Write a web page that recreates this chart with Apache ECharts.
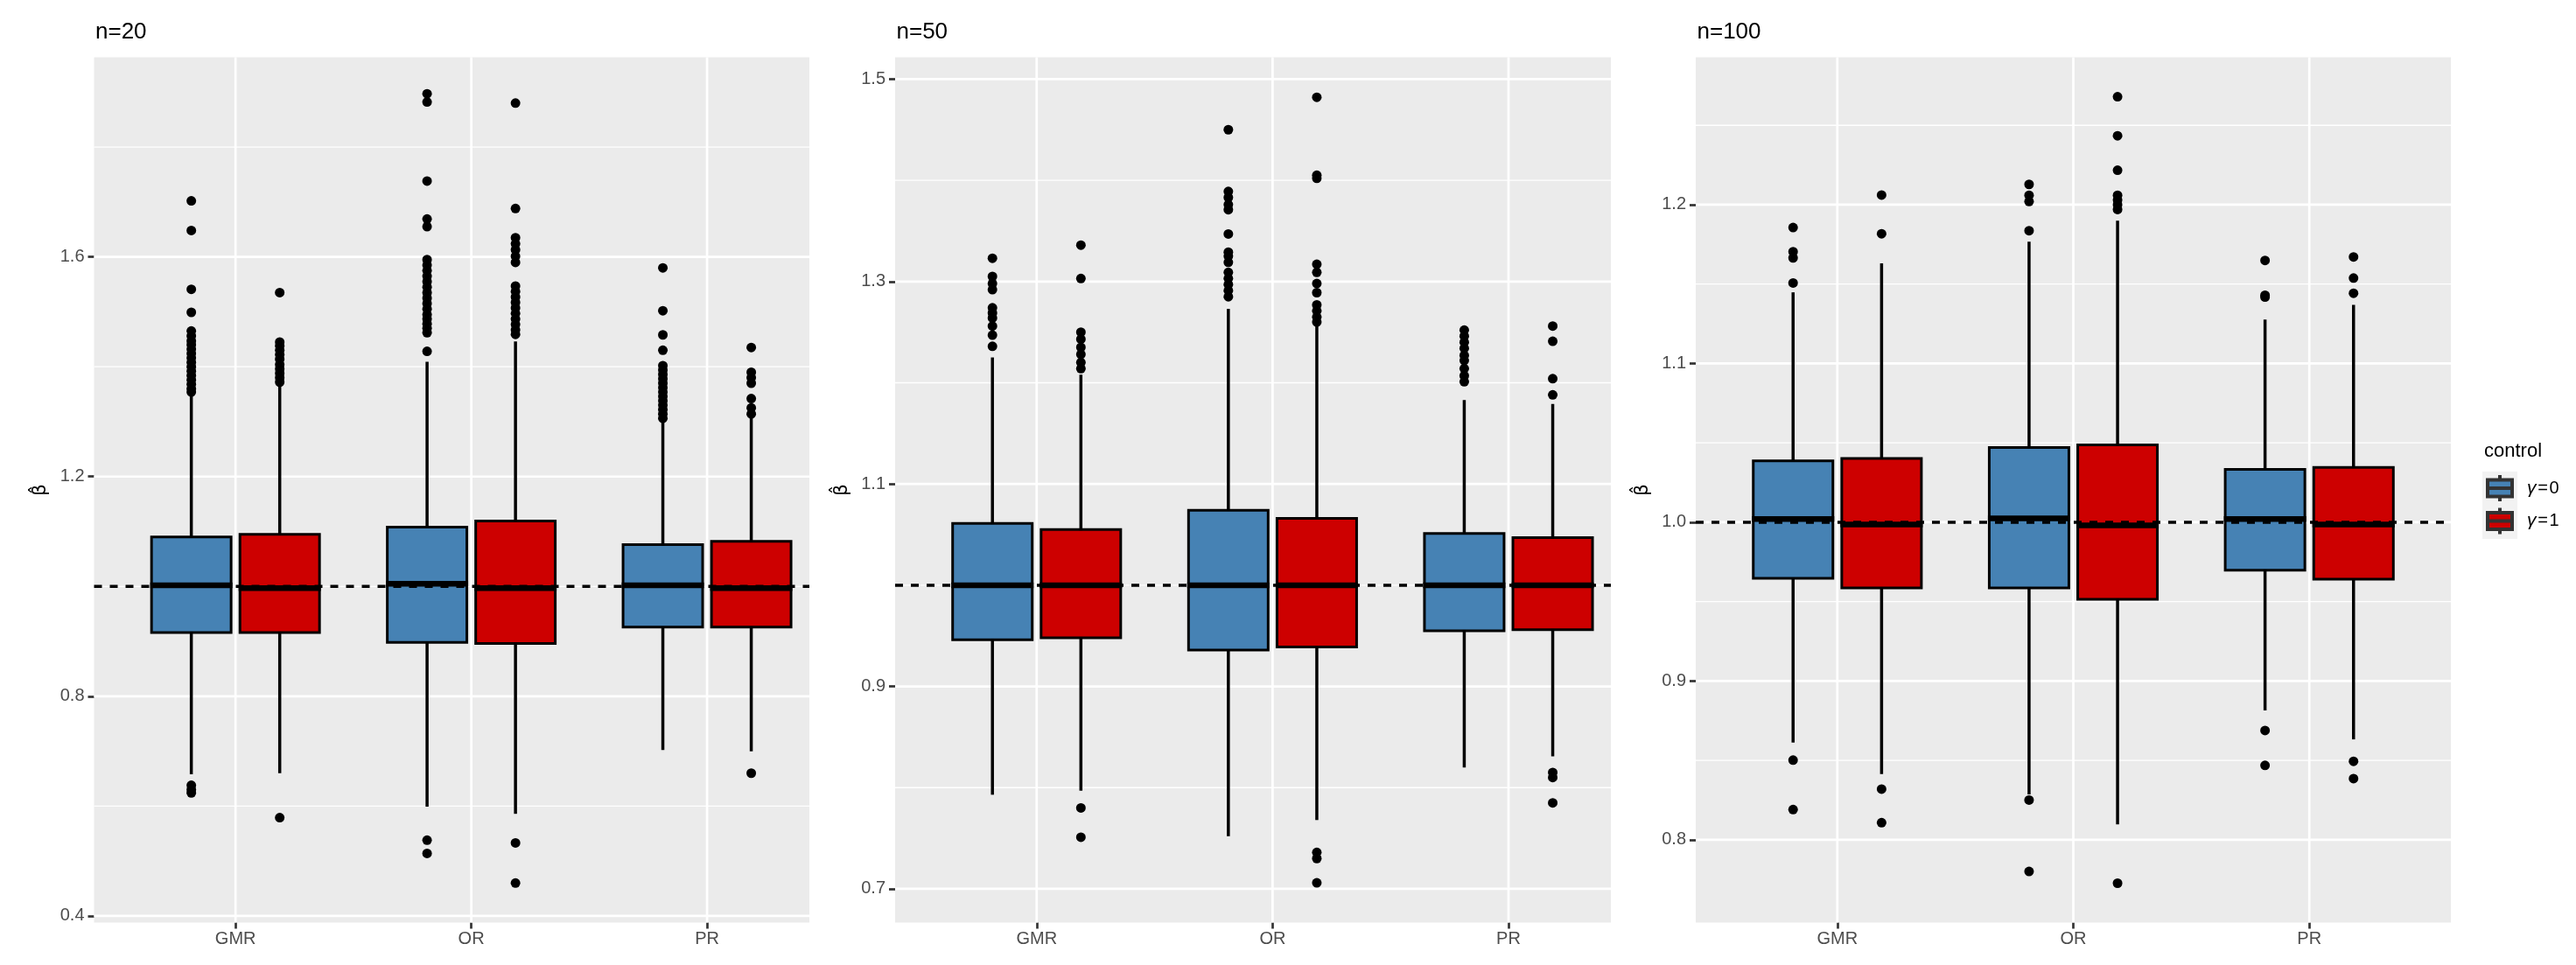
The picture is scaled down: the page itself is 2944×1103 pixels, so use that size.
<!DOCTYPE html>
<html><head><meta charset="utf-8">
<script src="https://cdn.jsdelivr.net/npm/echarts@6/dist/echarts.min.js"></script>
<style>html,body{margin:0;padding:0;background:#fff}#c{width:2944px;height:1103px}</style>
</head><body><div id="c"></div>
<script>
// ---------------- data ----------------
const categories = ['GMR', 'OR', 'PR'];
const groupNames = ['γ=0', 'γ=1'];
const panelTitles = ['n=20', 'n=50', 'n=100'];

// box statistics per category: [lower whisker, Q1, median, Q3, upper whisker]
const n20_g0_stats = [[0.658, 0.916, 1.002, 1.090, 1.348], [0.599, 0.898, 1.005, 1.108, 1.409], [0.702, 0.926, 1.002, 1.076, 1.300]];
const n20_g1_stats = [[0.660, 0.916, 0.997, 1.095, 1.367], [0.586, 0.896, 0.997, 1.119, 1.446], [0.700, 0.926, 0.997, 1.082, 1.308]];
const n50_g0_stats = [[0.793, 0.946, 1.000, 1.061, 1.225], [0.752, 0.936, 1.000, 1.074, 1.273], [0.820, 0.955, 1.000, 1.051, 1.183]];
const n50_g1_stats = [[0.797, 0.948, 1.000, 1.055, 1.208], [0.768, 0.939, 1.000, 1.066, 1.257], [0.831, 0.956, 1.000, 1.047, 1.179]];
const n100_g0_stats = [[0.8612, 0.9647, 1.0020, 1.0387, 1.1448], [0.8285, 0.9586, 1.0024, 1.0471, 1.1767], [0.8815, 0.9697, 1.0020, 1.0333, 1.1276]];
const n100_g1_stats = [[0.8414, 0.9586, 0.9986, 1.0402, 1.1631], [0.8097, 0.9514, 0.9980, 1.0487, 1.1899], [0.8632, 0.9641, 0.9986, 1.0345, 1.1369]];

// outliers per category
const n20_g0_out = [
  [1.702, 1.648, 1.541, 1.499, 1.465, 1.456, 1.447, 1.440, 1.432, 1.424, 1.416, 1.408, 1.400, 1.392, 1.384, 1.376, 1.368, 1.360, 1.354, 0.638, 0.630, 0.624],
  [1.897, 1.882, 1.738, 1.669, 1.655, 1.595, 1.585, 1.575, 1.565, 1.555, 1.545, 1.535, 1.525, 1.515, 1.505, 1.495, 1.487, 1.478, 1.470, 1.462, 1.428, 0.538, 0.514],
  [1.580, 1.502, 1.458, 1.430, 1.402, 1.394, 1.386, 1.378, 1.370, 1.362, 1.354, 1.346, 1.338, 1.330, 1.322, 1.314, 1.306]
];
const n20_g1_out = [
  [1.535, 1.445, 1.438, 1.430, 1.422, 1.414, 1.404, 1.396, 1.388, 1.380, 1.372, 0.579],
  [1.880, 1.688, 1.635, 1.624, 1.613, 1.601, 1.590, 1.547, 1.537, 1.527, 1.517, 1.507, 1.497, 1.487, 1.477, 1.467, 1.459, 0.533, 0.460],
  [1.435, 1.390, 1.380, 1.370, 1.342, 1.325, 1.314, 0.660]
];
const n50_g0_out = [
  [1.323, 1.305, 1.298, 1.292, 1.274, 1.269, 1.264, 1.256, 1.247, 1.236],
  [1.450, 1.389, 1.383, 1.376, 1.371, 1.347, 1.329, 1.325, 1.319, 1.309, 1.303, 1.297, 1.291, 1.285],
  [1.252, 1.246, 1.240, 1.234, 1.227, 1.222, 1.214, 1.207, 1.201]
];
const n50_g1_out = [
  [1.336, 1.303, 1.250, 1.243, 1.235, 1.228, 1.220, 1.214, 0.780, 0.751],
  [1.482, 1.405, 1.402, 1.317, 1.309, 1.298, 1.289, 1.277, 1.271, 1.265, 1.260, 0.736, 0.730, 0.706],
  [1.256, 1.241, 1.204, 1.188, 0.815, 0.810, 0.785]
];
const n100_g0_out = [
  [1.1856, 1.1704, 1.1665, 1.1507, 0.8501, 0.8190],
  [1.2128, 1.2059, 1.2020, 1.1836, 0.8250, 0.7800],
  [1.1649, 1.1430, 1.1418, 0.8688, 0.8468]
];
const n100_g1_out = [
  [1.2061, 1.1817, 0.8319, 0.8107],
  [1.2680, 1.2434, 1.2217, 1.2059, 1.2030, 1.2000, 1.1970, 0.7726],
  [1.1671, 1.1538, 1.1442, 0.8494, 0.8385]
];

// reference line
const refValue = [1.0];

// y-axis ticks
const n20_major = [0.4, 0.8, 1.2, 1.6];
const n20_minor = [0.6, 1.0, 1.4, 1.8];
const n50_major = [0.7, 0.9, 1.1, 1.3, 1.5];
const n50_minor = [0.8, 1.0, 1.2, 1.4];
const n100_major = [0.8, 0.9, 1.0, 1.1, 1.2];
const n100_minor = [0.85, 0.95, 1.05, 1.15, 1.25];

// y-axis extents
const n20_yRange = [0.388, 1.9635];
const n50_yRange = [0.6667, 1.5216];
const n100_yRange = [0.7478, 1.2929];

// ---------------- layout / style ----------------
const FONT = '"Liberation Sans", Arial, Helvetica, sans-serif';
const groupColors = ['#4682B4', '#CD0000'];
const DODGE = 0.1875, BOXW = 0.3375;
const panelLayout = [
  { left: 107.5, width: 817.5, xMax: 2.434 },
  { left: 1023, width: 818, xMax: 2.434 },
  { left: 1938, width: 863, xMax: 2.6 }
];
const TOP = 65.4, HEIGHT = 989.1;

const panels = [
  { stats: [n20_g0_stats, n20_g1_stats], out: [n20_g0_out, n20_g1_out], major: n20_major, minor: n20_minor, yRange: n20_yRange },
  { stats: [n50_g0_stats, n50_g1_stats], out: [n50_g0_out, n50_g1_out], major: n50_major, minor: n50_minor, yRange: n50_yRange },
  { stats: [n100_g0_stats, n100_g1_stats], out: [n100_g0_out, n100_g1_out], major: n100_major, minor: n100_minor, yRange: n100_yRange }
];

function hLines(width, color, dash) {
  return function (params, api) {
    const cs = params.coordSys;
    const y = api.coord([0, api.value(1)])[1];
    return { type: 'line', shape: { x1: cs.x, y1: y, x2: cs.x + cs.width, y2: y },
      style: { stroke: color, lineWidth: width, lineDash: dash || null } };
  };
}
function vLines(width, color) {
  return function (params, api) {
    const cs = params.coordSys;
    const x = api.coord([api.value(0), 1])[0];
    return { type: 'line', shape: { x1: x, y1: cs.y, x2: x, y2: cs.y + cs.height },
      style: { stroke: color, lineWidth: width } };
  };
}
function boxRender(params, api) {
  const grp = api.value(1);
  const xv = api.value(0) + (grp === 0 ? -DODGE : DODGE);
  const lo = api.coord([xv, api.value(2)]);
  const q1 = api.coord([xv, api.value(3)]);
  const md = api.coord([xv, api.value(4)]);
  const q3 = api.coord([xv, api.value(5)]);
  const hi = api.coord([xv, api.value(6)]);
  const w = api.size([BOXW, 0])[0];
  const x = lo[0];
  return { type: 'group', children: [
    { type: 'line', shape: { x1: x, y1: hi[1], x2: x, y2: q3[1] }, style: { stroke: '#000', lineWidth: 3.5 } },
    { type: 'line', shape: { x1: x, y1: q1[1], x2: x, y2: lo[1] }, style: { stroke: '#000', lineWidth: 3.5 } },
    { type: 'rect', shape: { x: x - w / 2, y: q3[1], width: w, height: q1[1] - q3[1] },
      style: { fill: groupColors[grp], stroke: '#000', lineWidth: 3 } },
    { type: 'line', shape: { x1: x - w / 2 - 1.5, y1: md[1], x2: x + w / 2 + 1.5, y2: md[1] }, style: { stroke: '#000', lineWidth: 6.5 } }
  ] };
}

const grids = [], xAxes = [], yAxes = [], series = [], titles = [];
panels.forEach((p, i) => {
  const L = panelLayout[i];
  grids.push({ left: L.left, top: TOP, width: L.width, height: HEIGHT, show: true,
    backgroundColor: '#EBEBEB', borderWidth: 0 });
  xAxes.push({ gridIndex: i, type: 'value', min: -0.6, max: L.xMax, position: 'bottom',
    axisLine: { show: false, onZero: false }, splitLine: { show: false },
    axisTick: { show: true, length: 7, customValues: [0, 1, 2], lineStyle: { color: '#333333', width: 2.7 } },
    axisLabel: { customValues: [0, 1, 2], formatter: v => categories[Math.round(v)], color: '#4D4D4D',
      fontSize: 20, fontFamily: FONT, margin: 9 } });
  yAxes.push({ gridIndex: i, type: 'value', min: p.yRange[0], max: p.yRange[1], position: 'left',
    axisLine: { show: false, onZero: false }, splitLine: { show: false },
    axisTick: { show: true, length: 7, customValues: p.major, lineStyle: { color: '#333333', width: 2.7 } },
    axisLabel: { customValues: p.major, formatter: v => v.toFixed(1), color: '#4D4D4D',
      fontSize: 20, fontFamily: FONT, margin: 11 },
    name: 'β\u0302', nameLocation: 'middle', nameRotate: 90, nameGap: 50,
    nameTextStyle: { fontSize: 21, color: '#000', fontFamily: '"DejaVu Sans", sans-serif' } });
  titles.push({ text: panelTitles[i], left: L.left + 1.5, top: 24, padding: 0,
    textStyle: { fontSize: 26, fontWeight: 'normal', color: '#000', fontFamily: FONT } });

  series.push({ type: 'custom', xAxisIndex: i, yAxisIndex: i, silent: true, z: 1,
    renderItem: hLines(1.3, '#FFFFFF'), data: p.minor.map(v => [0, v]) });
  series.push({ type: 'custom', xAxisIndex: i, yAxisIndex: i, silent: true, z: 1,
    renderItem: hLines(2.7, '#FFFFFF'), data: p.major.map(v => [0, v]) });
  series.push({ type: 'custom', xAxisIndex: i, yAxisIndex: i, silent: true, z: 1,
    renderItem: vLines(2.7, '#FFFFFF'), data: categories.map((c, k) => [k, 1]) });

  p.stats.forEach((st, g) => {
    series.push({ type: 'custom', name: groupNames[g], xAxisIndex: i, yAxisIndex: i, silent: true, z: 2,
      renderItem: boxRender, data: st.map((s, k) => [k, g].concat(s)) });
  });
  p.out.forEach((o, g) => {
    const pts = [];
    o.forEach((vals, k) => vals.forEach(v => pts.push([k + (g === 0 ? -DODGE : DODGE), v])));
    series.push({ type: 'scatter', xAxisIndex: i, yAxisIndex: i, silent: true, z: 3,
      symbolSize: 11, itemStyle: { color: '#000', opacity: 1 }, data: pts });
  });
  series.push({ type: 'custom', xAxisIndex: i, yAxisIndex: i, silent: true, z: 4,
    renderItem: hLines(3.5, '#000000', [9, 9]), data: refValue.map(v => [0, v]) });
});

// legend drawn as graphic elements (boxplot glyph keys)
const legendItems = [];
legendItems.push({ type: 'text', left: 2839, top: 505, style: { text: 'control', fontSize: 22, fontFamily: FONT, fill: '#000' } });
legendItems.push({ type: 'rect', shape: { x: 2837, y: 539, width: 40, height: 77 }, style: { fill: '#F2F2F2' } });
groupNames.forEach((name, g) => {
  const cy = 558 + g * 37.5;
  const parts = name.split('=');
  legendItems.push({ type: 'line', shape: { x1: 2857, y1: cy - 15, x2: 2857, y2: cy + 15 }, style: { stroke: '#333333', lineWidth: 4 } });
  legendItems.push({ type: 'rect', shape: { x: 2843, y: cy - 9.5, width: 28, height: 19 }, style: { fill: groupColors[g], stroke: '#333333', lineWidth: 4 } });
  legendItems.push({ type: 'line', shape: { x1: 2841, y1: cy, x2: 2873, y2: cy }, style: { stroke: '#333333', lineWidth: 4 } });
  legendItems.push({ type: 'text', x: 2888, y: cy, style: {
    text: '{g|' + parts[0] + '}{t|\u200A=\u200A' + parts[1] + '}',
    verticalAlign: 'middle', align: 'left',
    rich: { g: { fontSize: 21, fontStyle: 'italic', fontFamily: FONT, fill: '#000' },
            t: { fontSize: 20, fontFamily: FONT, fill: '#000' } } } });
});

const chart = echarts.init(document.getElementById('c'), null, { renderer: 'canvas' });
chart.setOption({
  backgroundColor: '#FFFFFF',
  animation: false,
  title: titles,
  grid: grids,
  xAxis: xAxes,
  yAxis: yAxes,
  series: series,
  graphic: legendItems
});
</script></body></html>
